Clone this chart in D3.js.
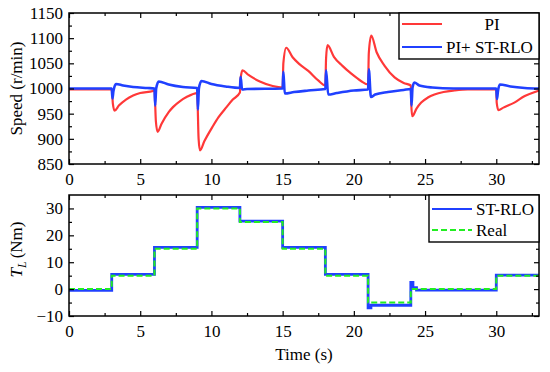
<!DOCTYPE html>
<html>
<head>
<meta charset="utf-8">
<script src="https://cdn.jsdelivr.net/npm/d3@7"></script>
</head>
<body style="margin:0;background:#fff">
<div id="chart"></div>
<script>
// speed response, [time s, speed r/min]
var speedPI = [
  [0, 998], [3.0, 998], [3.08, 970], [3.2, 956], [3.5, 966], [4.0, 978], [4.5, 986], [5.0, 991], [5.9, 995], [6.0, 996],
  [6.1, 935], [6.22, 914], [6.5, 930], [7.0, 953], [7.3, 963], [7.8, 975], [8.25, 983], [9.0, 991],
  [9.1, 900], [9.2, 877], [9.5, 895], [10.1, 925], [10.5, 943], [11.06, 963], [11.5, 978], [12.0, 992],
  [12.05, 1020], [12.18, 1036], [12.6, 1027], [13.4, 1014], [14.3, 1005], [15.0, 1002],
  [15.05, 1050], [15.25, 1081], [15.7, 1062], [16.2, 1048], [16.8, 1035], [17.5, 1016], [18.0, 1006],
  [18.05, 1060], [18.15, 1086], [18.6, 1063], [19.2, 1045], [19.8, 1030], [20.5, 1015], [21.0, 1008],
  [21.05, 1070], [21.22, 1105], [21.6, 1072], [22.16, 1045], [22.86, 1022], [23.5, 1011], [24.0, 1006],
  [24.03, 970], [24.1, 945], [24.4, 960], [24.73, 972], [25.2, 982], [25.66, 988], [26.3, 993], [27.06, 996], [28, 998], [30.0, 998],
  [30.03, 972], [30.15, 957], [30.5, 962], [31.27, 972], [32.0, 985], [32.9, 995], [33, 996]
];

var speedRLO = [
  [0, 1000], [3.0, 1000], [3.05, 980], [3.12, 995], [3.3, 1009], [3.8, 1006], [4.5, 1003], [5.5, 1001], [6.0, 1000],
  [6.05, 966], [6.12, 1000], [6.3, 1014], [7.0, 1008], [8.0, 1003], [9.0, 1001],
  [9.05, 958], [9.12, 1000], [9.3, 1015], [10.0, 1009], [11.0, 1004], [12.0, 1001],
  [12.05, 1023], [12.15, 998], [12.5, 999], [15.0, 1000],
  [15.05, 1033], [15.15, 990], [15.8, 993], [16.8, 996], [18.0, 999],
  [18.05, 1036], [18.2, 988], [18.8, 991], [20, 996], [21.0, 998],
  [21.05, 1038], [21.2, 983], [21.5, 988], [22.4, 993], [23.5, 997], [24.0, 999],
  [24.05, 966], [24.12, 1002], [24.25, 1012], [24.6, 1006], [25.5, 1002], [27, 1000], [30.0, 1000],
  [30.05, 979], [30.12, 995], [30.25, 1008], [31, 1004], [32, 1001], [33, 1000]
];

// load torque, [time s, Nm]
var torqueReal = [[0, 0], [3, 5], [6, 15], [9, 30], [12, 25], [15, 15], [18, 5], [21, -5], [24, 0], [30, 5], [33, 5]];
var torqueRLO = [
  [0, -0.5], [3, 5.5], [6, 15.5], [9, 30.4], [12, 25.3], [15, 15.5], [18, 5.5],
  [21, -7], [21.2, -6], [24, 2.5], [24.15, 0.5], [24.4, -0.4], [30, 5.2], [33, 5.2]
];

var xTicks = [0, 5, 10, 15, 20, 25, 30];
var xMinor = [2.5, 7.5, 12.5, 17.5, 22.5, 27.5, 32.5];
var speedTicks = [850, 900, 950, 1000, 1050, 1100, 1150];
var speedMinor = [875, 925, 975, 1025, 1075, 1125];
var torqueTicks = [-10, 0, 10, 20, 30];
var torqueMinor = [-5, 5, 15, 25];

var W = 550, H = 372;
var left = 69, right = 539;
var top1 = 13, bot1 = 164;
var top2 = 195, bot2 = 316;

var red = "#ff3838", blue = "#2040ff", green = "#22ee22";

var svg = d3.select("#chart").append("svg")
  .attr("width", W)
  .attr("height", H);

var x = d3.scaleLinear().domain([0, 33]).range([left, right]);
var ySpeed = d3.scaleLinear().domain([850, 1150]).range([bot1, top1]);
var yTorque = d3.scaleLinear().domain([-10, 35]).range([bot2, top2]);

function drawAxes(y, yt, ym, top, bot) {
  var g = svg.append("g");
  g.append("g").attr("transform", "translate(0," + bot + ")")
    .call(d3.axisBottom(x).tickValues(xTicks).tickFormat(d3.format("d"))
      .tickSizeInner(-5).tickSizeOuter(0).tickPadding(9));
  g.append("g").attr("transform", "translate(0," + bot + ")")
    .call(d3.axisBottom(x).tickValues(xMinor).tickSize(-3).tickFormat(""));
  g.append("g").attr("transform", "translate(0," + top + ")")
    .call(d3.axisTop(x).tickValues(xTicks).tickSize(-5).tickFormat(""));
  g.append("g").attr("transform", "translate(0," + top + ")")
    .call(d3.axisTop(x).tickValues(xMinor).tickSize(-3).tickFormat(""));
  g.append("g").attr("transform", "translate(" + left + ",0)")
    .call(d3.axisLeft(y).tickValues(yt).tickFormat(d3.format("d"))
      .tickSizeInner(-5).tickSizeOuter(0).tickPadding(6));
  g.append("g").attr("transform", "translate(" + left + ",0)")
    .call(d3.axisLeft(y).tickValues(ym).tickSize(-3).tickFormat(""));
  g.append("g").attr("transform", "translate(" + right + ",0)")
    .call(d3.axisRight(y).tickValues(yt).tickSize(-5).tickFormat(""));
  g.append("g").attr("transform", "translate(" + right + ",0)")
    .call(d3.axisRight(y).tickValues(ym).tickSize(-3).tickFormat(""));
  g.selectAll(".domain").remove();
  g.selectAll(".tick line").attr("stroke", "#000").attr("stroke-width", 1.2);
  g.selectAll(".tick text").attr("fill", "#000").attr("font-size", 17);
  return g;
}

// ---- top panel: speed ----
svg.append("clipPath").attr("id", "c1").append("rect")
  .attr("x", left).attr("y", top1).attr("width", right - left).attr("height", bot1 - top1);

var lineSpeed = d3.line().curve(d3.curveMonotoneX).x(d => x(d[0])).y(d => ySpeed(d[1]));

svg.append("path").datum(speedPI)
  .attr("clip-path", "url(#c1)")
  .attr("fill", "none").attr("stroke", red).attr("stroke-width", 2.2)
  .attr("d", lineSpeed);
svg.append("path").datum(speedRLO)
  .attr("clip-path", "url(#c1)")
  .attr("fill", "none").attr("stroke", blue).attr("stroke-width", 2.6)
  .attr("d", lineSpeed);

drawAxes(ySpeed, speedTicks, speedMinor, top1, bot1);
svg.append("rect").attr("x", left).attr("y", top1)
  .attr("width", right - left).attr("height", bot1 - top1)
  .attr("fill", "none").attr("stroke", "#000").attr("stroke-width", 1.5);

// legend 1
var leg1 = svg.append("g");
leg1.append("rect").attr("x", 399).attr("y", 13).attr("width", right - 399).attr("height", 46)
  .attr("fill", "#fff").attr("stroke", "#000").attr("stroke-width", 1.4);
leg1.append("line").attr("x1", 402).attr("x2", 442).attr("y1", 24).attr("y2", 24)
  .attr("stroke", red).attr("stroke-width", 2);
leg1.append("text").attr("x", 492).attr("y", 30).attr("text-anchor", "middle").text("PI");
leg1.append("line").attr("x1", 402).attr("x2", 442).attr("y1", 47).attr("y2", 47)
  .attr("stroke", blue).attr("stroke-width", 2);
leg1.append("text").attr("x", 446).attr("y", 53).text("PI+ ST-RLO");

svg.append("text")
  .attr("transform", "translate(22," + ((top1 + bot1) / 2) + ") rotate(-90)")
  .attr("text-anchor", "middle")
  .text("Speed (r/min)");

// ---- bottom panel: load torque ----
svg.append("clipPath").attr("id", "c2").append("rect")
  .attr("x", left).attr("y", top2).attr("width", right - left).attr("height", bot2 - top2);

var lineTorque = d3.line().curve(d3.curveStepAfter).x(d => x(d[0])).y(d => yTorque(d[1]));

svg.append("path").datum(torqueRLO)
  .attr("clip-path", "url(#c2)")
  .attr("fill", "none").attr("stroke", blue).attr("stroke-width", 2.8)
  .attr("d", lineTorque);
svg.append("path").datum(torqueReal)
  .attr("clip-path", "url(#c2)")
  .attr("fill", "none").attr("stroke", green).attr("stroke-width", 2)
  .attr("stroke-dasharray", "6,3")
  .attr("d", lineTorque);

drawAxes(yTorque, torqueTicks, torqueMinor, top2, bot2);
svg.append("rect").attr("x", left).attr("y", top2)
  .attr("width", right - left).attr("height", bot2 - top2)
  .attr("fill", "none").attr("stroke", "#000").attr("stroke-width", 1.5);

// legend 2
var leg2 = svg.append("g");
leg2.append("rect").attr("x", 429).attr("y", top2).attr("width", right - 429).attr("height", 47)
  .attr("fill", "#fff").attr("stroke", "#000").attr("stroke-width", 1.4);
leg2.append("line").attr("x1", 432).attr("x2", 472).attr("y1", 209).attr("y2", 209)
  .attr("stroke", blue).attr("stroke-width", 2);
leg2.append("text").attr("x", 476).attr("y", 215).text("ST-RLO");
leg2.append("line").attr("x1", 432).attr("x2", 472).attr("y1", 230).attr("y2", 230)
  .attr("stroke", green).attr("stroke-width", 2).attr("stroke-dasharray", "6,3");
leg2.append("text").attr("x", 476).attr("y", 236).text("Real");

var yl = svg.append("text")
  .attr("transform", "translate(22," + ((top2 + bot2) / 2 - 6) + ") rotate(-90)")
  .attr("text-anchor", "middle");
yl.append("tspan").attr("font-style", "italic").text("T");
yl.append("tspan").attr("font-style", "italic").style("font-size", "12px").attr("dy", 4).text("L");
yl.append("tspan").attr("dy", -4).attr("dx", 3).text("(Nm)");

svg.append("text")
  .attr("x", (left + right) / 2).attr("y", 360)
  .attr("text-anchor", "middle")
  .text("Time (s)");

// one serif face for every label
svg.selectAll("text")
  .style("font-family", "'Liberation Serif'")
  .style("font-size", "17px")
  .attr("fill", "#000");
</script>
</body>
</html>
